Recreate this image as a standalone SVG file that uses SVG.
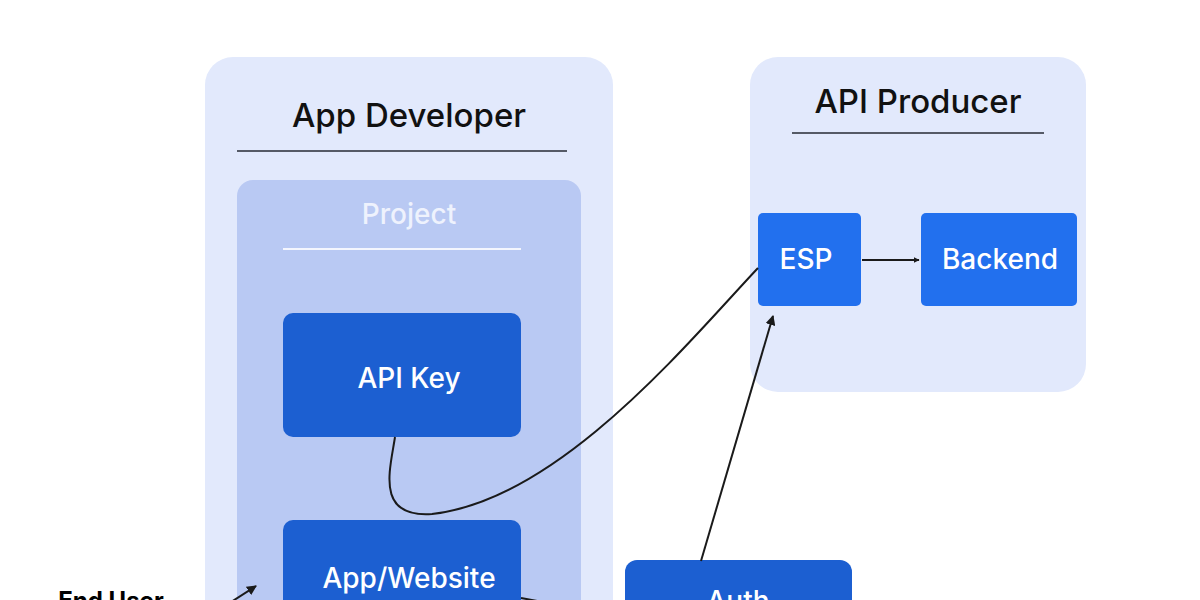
<svg xmlns="http://www.w3.org/2000/svg" width="1200" height="600" viewBox="0 0 1200 600">
<defs>
<style>
.panel{fill:#e2e9fc}
.proj{fill:#b9c9f3}
.dark{fill:#1c5fd1}
.bright{fill:#2270ee}
.title{font-family:Inter,"Open Sans",sans-serif;font-size:33px;font-weight:500;fill:#111111;text-anchor:middle}
.lbl{font-family:Inter,"Open Sans",sans-serif;font-size:28px;font-weight:500;fill:#ffffff;text-anchor:middle}
.conn{fill:none;stroke:#1a1a1a;stroke-width:2}
</style>
<marker id="ah" viewBox="0 0 10 10" refX="9" refY="5" markerWidth="6" markerHeight="6" orient="auto" markerUnits="userSpaceOnUse">
<path d="M0,0 L10,5 L0,10 z" fill="#1a1a1a"/>
</marker>
<marker id="ah2" viewBox="0 0 10 10" refX="9" refY="5" markerWidth="10" markerHeight="10" orient="auto" markerUnits="userSpaceOnUse">
<path d="M0,0 L10,5 L0,10 z" fill="#1a1a1a"/>
</marker>
</defs>
<rect width="1200" height="600" fill="#ffffff"/>
<g id="app-developer">
<rect class="panel" x="205" y="57" width="408" height="600" rx="28"/>
<text class="title" x="409" y="127">App Developer</text>
<line x1="237" y1="151" x2="567" y2="151" stroke="#555a66" stroke-width="2"/>
</g>
<g id="project">
<rect class="proj" x="237" y="180" width="344" height="480" rx="16"/>
<text class="lbl" x="409" y="224" style="fill:#eef2fd">Project</text>
<line x1="283" y1="249" x2="521" y2="249" stroke="#f4f6fe" stroke-width="2"/>
</g>
<g id="api-key">
<rect class="dark" x="283" y="313" width="238" height="124" rx="10"/>
<text class="lbl" x="409" y="388">API Key</text>
</g>
<g id="app-website">
<rect class="dark" x="283" y="520" width="238" height="124" rx="10"/>
<text class="lbl" x="409" y="588">App/Website</text>
</g>
<g id="api-producer">
<rect class="panel" x="750" y="57" width="336" height="335" rx="28"/>
<text class="title" x="918" y="113">API Producer</text>
<line x1="792" y1="133" x2="1044" y2="133" stroke="#555a66" stroke-width="2"/>
</g>
<g id="esp">
<rect class="bright" x="758" y="213" width="103" height="93" rx="5"/>
<text class="lbl" x="806" y="269">ESP</text>
</g>
<g id="backend">
<rect class="bright" x="921" y="213" width="156" height="93" rx="5"/>
<text class="lbl" x="1000" y="269">Backend</text>
</g>
<g id="auth">
<rect class="dark" x="625" y="560" width="227" height="100" rx="12"/>
<text class="lbl" x="738" y="611">Auth</text>
</g>
<g id="end-user">
<text x="111" y="609" font-family="Inter,'Open Sans',sans-serif" font-size="24" font-weight="bold" fill="#000000" text-anchor="middle">End User</text>
</g>
<g id="connectors">
<line class="conn" x1="862" y1="260" x2="919" y2="260" marker-end="url(#ah)"/>
<path class="conn" d="M395,437 C390,470 375,518 432,514 C560,500 690,340 758,268"/>
<line class="conn" x1="701" y1="561" x2="773" y2="316" marker-end="url(#ah2)"/>
<line class="conn" x1="228" y1="604" x2="256" y2="586" marker-end="url(#ah2)"/>
<line class="conn" x1="521" y1="598" x2="575" y2="608"/>
</g>
</svg>
